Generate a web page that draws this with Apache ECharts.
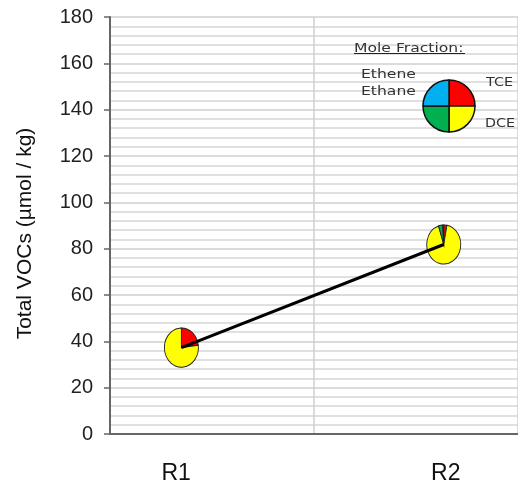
<!DOCTYPE html>
<html>
<head>
<meta charset="utf-8">
<script src="https://cdn.jsdelivr.net/npm/echarts@6/dist/echarts.min.js"></script>
<style>html,body{margin:0;padding:0;background:#fff}#c{width:518px;height:485px}</style>
</head>
<body>
<div id="c"></div>
<script>
// ---- data ----
const categories = ['R1', 'R2'];
const xPositions = [0.350, 1.636];
const labelPositions = [0.324, 1.646];
const totalVOCs = [37.3, 81.8];
// mole fractions per location: TCE, DCE, Ethane, Ethene
const fracTCE = [0.23, 0.03];
const fracDCE = [0.77, 0.92];
const fracEthane = [0.0, 0.04];
const fracEthene = [0.0, 0.01];
const componentNames = ['TCE', 'DCE', 'Ethane', 'Ethene'];
const componentColors = ['#ff0000', '#ffff00', '#00b050', '#00b0f0'];
const legendShares = [1, 1, 1, 1];
const yTicks = [0, 20, 40, 60, 80, 100, 120, 140, 160, 180];

const chart = echarts.init(document.getElementById('c'));

const pieData = categories.map((c, i) => [xPositions[i], totalVOCs[i], fracTCE[i], fracDCE[i], fracEthane[i], fracEthene[i]]);
const lineData = categories.map((c, i) => [xPositions[i], totalVOCs[i]]);

function renderPie(params, api) {
  const c = api.coord([api.value(0), api.value(1)]);
  const fr = [api.value(2), api.value(3), api.value(4), api.value(5)];
  const children = [];
  let a = -Math.PI / 2;
  for (let k = 0; k < 4; k++) {
    if (fr[k] <= 0) continue;
    const e = a + fr[k] * Math.PI * 2;
    children.push({
      type: 'sector',
      shape: { cx: 0, cy: 0, r0: 0, r: 17, startAngle: a, endAngle: e, clockwise: true },
      style: { fill: componentColors[k], stroke: '#222', lineWidth: 0.9 }
    });
    a = e;
  }
  return { type: 'group', x: c[0], y: c[1], scaleX: 1, scaleY: 1.15, children: children };
}

const legendFont = '13px "DejaVu Sans"';
const option = {
  animation: false,
  backgroundColor: '#fff',
  grid: { left: 110, top: 17, right: -4, bottom: 50, containLabel: false },
  xAxis: {
    type: 'value', min: 0, max: 2, interval: 1,
    axisLine: { show: true, onZero: false, lineStyle: { color: '#666', width: 2 } },
    axisTick: { show: false },
    splitLine: { show: true, lineStyle: { color: '#d0d0d0', width: 1.5 } },
    axisLabel: {
      show: true,
      customValues: labelPositions,
      formatter: function (v) { const i = labelPositions.indexOf(v); return i >= 0 ? categories[i] : ''; },
      fontFamily: 'Liberation Sans, Arial, sans-serif', fontSize: 23, color: '#111', margin: 28
    }
  },
  yAxis: {
    type: 'value', min: 0, max: 180, interval: 20,
    name: 'Total VOCs (µmol / kg)', nameLocation: 'middle', nameGap: 74,
    nameTextStyle: { fontFamily: 'Liberation Sans, Arial, sans-serif', fontSize: 21, color: '#111', padding: [0, 16, 0, 0] },
    axisLine: { show: true, lineStyle: { color: '#666', width: 2 } },
    axisTick: { show: true, inside: false, length: 6, lineStyle: { color: '#666', width: 1.5 } },
    axisLabel: {
      fontFamily: 'Liberation Sans, Arial, sans-serif', fontSize: 20, color: '#222', margin: 17,
      formatter: function (v) { return yTicks.indexOf(v) >= 0 ? String(v) : ''; }
    },
    splitLine: { show: true, lineStyle: { color: '#cfcfcf', width: 1.5 } },
    minorTick: { show: false, splitNumber: 5 },
    minorSplitLine: { show: true, lineStyle: { color: '#d6d6d6', width: 1.5 } }
  },
  series: [
    {
      type: 'custom', name: 'pies', renderItem: renderPie, data: pieData, z: 3,
      encode: { x: 0, y: 1 }, silent: true
    },
    {
      type: 'line', name: 'Total VOCs', data: lineData, z: 5, symbol: 'none',
      lineStyle: { color: '#000', width: 3 }, silent: true
    },
    {
      type: 'pie', name: 'legendPie', center: [449, 106], radius: 26, startAngle: 90, clockwise: true,
      silent: true, label: { show: false }, labelLine: { show: false }, z: 6,
      itemStyle: { borderColor: '#111', borderWidth: 1.5 },
      data: componentNames.map((n, i) => ({ name: n, value: legendShares[i], itemStyle: { color: componentColors[i] } }))
    }
  ],
  graphic: [
    { type: 'text', x: 354, y: 42, scaleX: 1.2, z: 100, style: { text: 'Mole Fraction:', font: legendFont, fill: '#333' } },
    { type: 'line', z: 100, shape: { x1: 354, y1: 53.5, x2: 465, y2: 53.5 }, style: { stroke: '#222', lineWidth: 1.2 } },
    { type: 'text', x: 361, y: 68, scaleX: 1.2, z: 100, style: { text: 'Ethene', font: legendFont, fill: '#333' } },
    { type: 'text', x: 361, y: 85, scaleX: 1.2, z: 100, style: { text: 'Ethane', font: legendFont, fill: '#333' } },
    { type: 'text', x: 486, y: 76, scaleX: 1.1, z: 100, style: { text: 'TCE', font: legendFont, fill: '#333' } },
    { type: 'text', x: 485, y: 117, scaleX: 1.1, z: 100, style: { text: 'DCE', font: legendFont, fill: '#333' } }
  ]
};
chart.setOption(option);
</script>
</body>
</html>
